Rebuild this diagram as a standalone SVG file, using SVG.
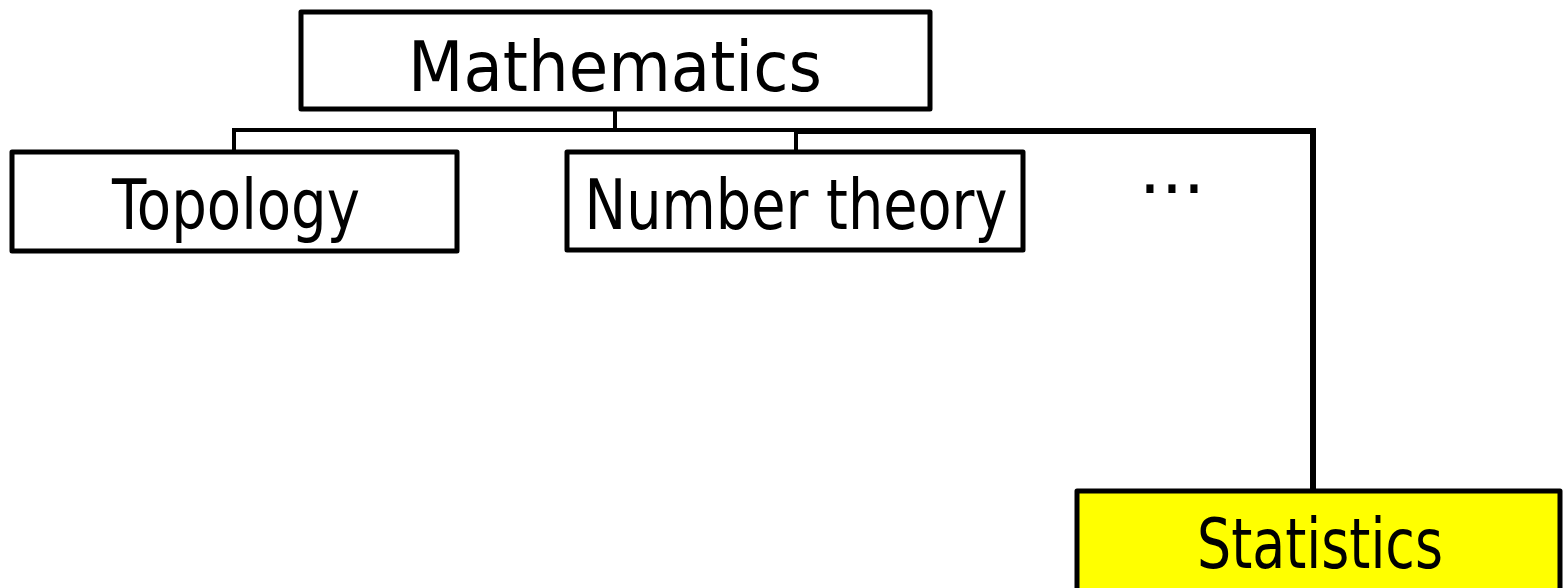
<svg xmlns="http://www.w3.org/2000/svg" width="1564" height="588" viewBox="0 0 1564 588">
<style>
.box{fill:#ffffff;stroke:#000;stroke-width:5;stroke-linejoin:round}
.hl{fill:#ffff00}
.lbl{font-family:"DejaVu Sans","Liberation Sans",sans-serif;font-size:69px;fill:#000;text-anchor:middle}
.con{stroke:#000;stroke-width:4;fill:none}
.thick{stroke-width:6}
</style>
<rect width="1564" height="588" fill="#fff"/>
<g id="connectors">
<line class="con" x1="615" y1="109" x2="615" y2="130"/>
<line class="con" x1="232" y1="130" x2="798" y2="130"/>
<line class="con thick" x1="796" y1="131" x2="1316" y2="131"/>
<line class="con" x1="234" y1="130" x2="234" y2="152"/>
<line class="con" x1="796" y1="130" x2="796" y2="152"/>
<line class="con thick" x1="1313" y1="128" x2="1313" y2="492"/>
</g>
<g id="mathematics">
<rect class="box" x="301" y="12" width="629" height="97"/>
<text class="lbl" x="615" y="91" textLength="414" lengthAdjust="spacingAndGlyphs">Mathematics</text>
</g>
<g id="topology">
<rect class="box" x="12" y="152" width="445" height="99"/>
<text class="lbl" x="236" y="229" textLength="248" lengthAdjust="spacingAndGlyphs">Topology</text>
</g>
<g id="number-theory">
<rect class="box" x="567" y="152" width="456" height="98"/>
<text class="lbl" x="796" y="229" textLength="423" lengthAdjust="spacingAndGlyphs">Number theory</text>
</g>
<g id="ellipsis">
<text class="lbl" x="1172" y="193">...</text>
</g>
<g id="statistics">
<rect class="box hl" x="1077" y="491" width="483" height="110"/>
<text class="lbl" x="1320" y="568" textLength="246" lengthAdjust="spacingAndGlyphs">Statistics</text>
</g>
</svg>
